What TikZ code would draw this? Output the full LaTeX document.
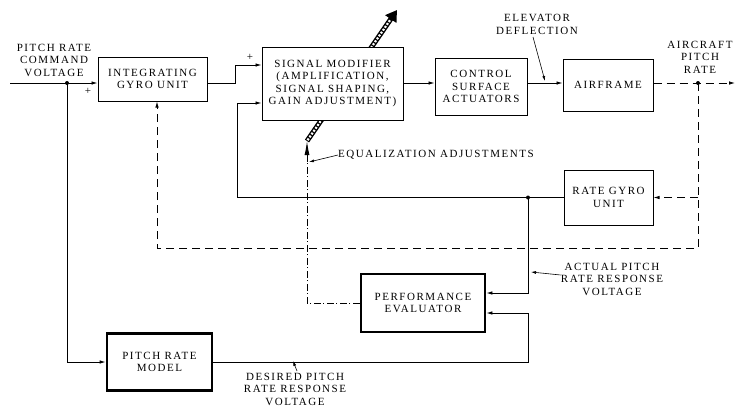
\documentclass[tikz,border=0pt]{standalone}
\usepackage{fontspec}
\setmainfont{Liberation Serif}[LetterSpace=14]
\usepackage{tikz}
\usetikzlibrary{arrows.meta,backgrounds}

\begin{document}
\begin{tikzpicture}[x=1pt,y=-1pt,
  font=\fontsize{11}{12.5}\selectfont,
  every node/.style={align=center,inner sep=0pt},
  block/.style={draw,line width=1pt,fill=white},
  heavy/.style={draw,line width=2.8pt,fill=white},
  sig/.style={line width=0.8pt,-{Latex[length=6pt,width=3.5pt]}},
  wire/.style={line width=0.8pt},
  dashsig/.style={sig,dash pattern=on 8pt off 5pt},
  dotdash/.style={line width=0.9pt,dash pattern=on 7pt off 2.5pt on 1pt off 2.5pt},
  pointer/.style={line width=0.6pt,-{Latex[length=5pt,width=3pt]}}]
  \useasboundingbox (0,0) rectangle (737,408);

  % blocks
  \node[block,minimum width=109pt,minimum height=44pt] (igu) at (152.5,79) {INTEGRATING\\GYRO UNIT};
  \node[block,minimum width=141pt,minimum height=73pt] (sigmod) at (332.5,83.5)
    {SIGNAL MODIFIER\\(AMPLIFICATION,\\SIGNAL SHAPING,\\GAIN ADJUSTMENT)};
  \node[block,minimum width=92pt,minimum height=57pt] (csa) at (481,86.5) {CONTROL\\SURFACE\\ACTUATORS};
  \node[block,minimum width=90pt,minimum height=52pt] (airframe) at (608,85) {AIRFRAME};
  \node[block,minimum width=89pt,minimum height=55pt] (rategyro) at (608.5,197.5) {RATE GYRO\\UNIT};
  \node[heavy,minimum width=124pt,minimum height=58pt] (perf) at (423,303) {PERFORMANCE\\EVALUATOR};
  \node[heavy,minimum width=105pt,minimum height=57pt] (prm) at (159.5,362) {PITCH RATE\\MODEL};

  % junctions
  \coordinate (in) at (10,83);
  \coordinate (cmddot) at (67,83);
  \coordinate (jog) at (235,83);
  \coordinate (out) at (735,83);
  \coordinate (pdot) at (698,83);
  \coordinate (loop) at (698,248);
  \coordinate (fbleft) at (237,197.5);
  \coordinate (adot) at (528,197.5);
  \coordinate (dcorner) at (adot |- prm.east);
  \coordinate (eqbase) at (307,162);
  \coordinate (eqtip) at (307,141);
  \coordinate (eqend) at (397,10);

  % adjustment arrow through the signal modifier
  \begin{scope}[on background layer]
    \draw[line width=5pt,-{Triangle[length=11pt,width=13pt]}] (eqtip) -- (eqend);
    \draw[white,line width=2.2pt,dash pattern=on 2pt off 1.5pt,shorten >=12pt,shorten <=1pt] (eqtip) -- (eqend);
  \end{scope}

  % forward path
  \draw[sig] (in) -- (igu.west |- in);
  \draw[sig] (igu.east |- in) -- (jog) |- ([yshift=18.5pt]sigmod.west);
  \draw[sig] (sigmod.east |- in) -- (csa.west |- in);
  \draw[sig] (csa.east |- in) -- (airframe.west |- in);
  \draw[dashsig] (airframe.east |- in) -- (out);

  % feedback paths
  \draw[dashsig] (pdot) -- (loop) -| ([xshift=4.5pt]igu.south);
  \draw[dashsig] (pdot |- rategyro.east) -- (rategyro.east);
  \draw[sig] (rategyro.west) -- (fbleft) |- ([yshift=-19.5pt]sigmod.west);
  \draw[sig] (adot) |- ([yshift=10pt]perf.east);
  \draw[sig] (cmddot) |- (prm.west);
  \draw[sig] (prm.east) -- (dcorner) |- ([yshift=-10pt]perf.east);
  \draw[dotdash] (perf.west) -| (eqbase);
  \draw[line width=0.9pt,-{Latex[length=14pt,width=5pt]}] (eqbase) -- (eqtip);

  \fill (cmddot) circle (2pt);
  \fill (pdot) circle (2pt);
  \fill (adot) circle (2pt);

  % labels
  \node (cmd) at (54,60) {PITCH RATE\\COMMAND\\VOLTAGE};
  \node (plusa) at (88,91) {+};
  \node (plusb) at (250,57) {+};
  \node (elev) at (537,24.5) {ELEVATOR\\DEFLECTION};
  \node (acpr) at (700,57) {AIRCRAFT\\PITCH\\RATE};
  \node[anchor=west] (eqlab) at (338,155) {EQUALIZATION ADJUSTMENTS};
  \node (actual) at (612,279) {ACTUAL PITCH\\RATE RESPONSE\\VOLTAGE};
  \node (desired) at (295,389) {DESIRED PITCH\\RATE RESPONSE\\VOLTAGE};

  % pointers
  \coordinate (elevtip) at (545,81);
  \coordinate (eqtipb) at (309,162);
  \coordinate (acttip) at (531,272);
  \coordinate (destip) at (293,361);
  \draw[pointer] (533,37) -- (elevtip);
  \draw[pointer] (eqlab.west) -- (eqtipb);
  \draw[pointer] (actual.west |- 0,275) -- (acttip);
  \draw[pointer] (297,371) -- (destip);
\end{tikzpicture}
\end{document}
